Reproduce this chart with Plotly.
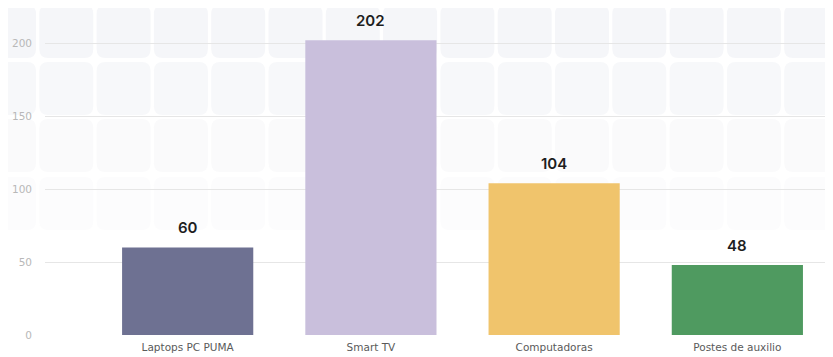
import plotly.graph_objects as go

categories = ["Laptops PC PUMA", "Smart TV", "Computadoras", "Postes de auxilio"]
values = [60, 202, 104, 48]
bar_colors = ["#6e7192", "#c9bfdc", "#f0c46c", "#4f9a60"]
y_ticks = [0, 50, 100, 150, 200]

# The page body adds an 8px offset, so the figure is drawn 8px smaller
OFF = 8
W, H = 833 - OFF, 357 - OFF
L, R, T, B = 45 - OFF, 0, 14 - OFF, 22
pw, ph = W - L - R, H - T - B


def px2x(p):
    return (p - OFF - L) / pw


def py2y(p):
    return (H - B - (p - OFF)) / ph


def rounded(x0, y0, x1, y1, r):
    def P(x, y):
        return f"{px2x(x):.5f},{py2y(y):.5f}"
    return (f"M {P(x0 + r, y0)} L {P(x1 - r, y0)} Q {P(x1, y0)} {P(x1, y0 + r)} "
            f"L {P(x1, y1 - r)} Q {P(x1, y1)} {P(x1 - r, y1)} "
            f"L {P(x0 + r, y1)} Q {P(x0, y1)} {P(x0, y1 - r)} "
            f"L {P(x0, y0 + r)} Q {P(x0, y0)} {P(x0 + r, y0)} Z")


shapes = []
row_colors = ["#f4f5f8", "#f5f6f9", "#f7f8fa", "#fafafb", "#fcfcfd"]
row_tops = [-52, 5, 62, 119, 177]
for ri, top in enumerate(row_tops):
    c = -18.0
    while c < 833:
        shapes.append(dict(type="path", xref="paper", yref="paper",
                           path=rounded(c, top, c + 54, top + 53, 9),
                           fillcolor=row_colors[ri], line=dict(width=0),
                           layer="below"))
        c += 57.3

fig = go.Figure()
fig.add_trace(go.Bar(
    x=categories, y=values, marker=dict(color=bar_colors, line=dict(width=0)),
    width=0.716, hoverinfo="skip",
))

for cat, v in zip(categories, values):
    fig.add_annotation(x=cat, y=v, text=str(v), showarrow=False,
                       yanchor="bottom", yshift=8,
                       font=dict(family="Inter", size=15, color="#1e1e1e",
                                 weight=600))

fig.update_layout(
    width=W, height=H,
    margin=dict(l=L, r=R, t=T, b=B, autoexpand=False),
    paper_bgcolor="white", plot_bgcolor="rgba(0,0,0,0)",
    showlegend=False,
    shapes=shapes,
    xaxis=dict(range=[-0.7787, 3.522], showgrid=False, zeroline=False,
               showline=False, ticks="",
               tickfont=dict(family="DejaVu Sans", size=10.5, color="#5a5a5a"),
               ticklabelstandoff=4),
    yaxis=dict(range=[0, 220], tickvals=y_ticks, showgrid=True,
               gridcolor="#e6e6e6", gridwidth=1, zeroline=False,
               showline=False,
               tickfont=dict(family="DejaVu Sans", size=10.5, color="#b8b8b8"),
               ticklabelstandoff=12),
)

fig.write_html("out.html")
